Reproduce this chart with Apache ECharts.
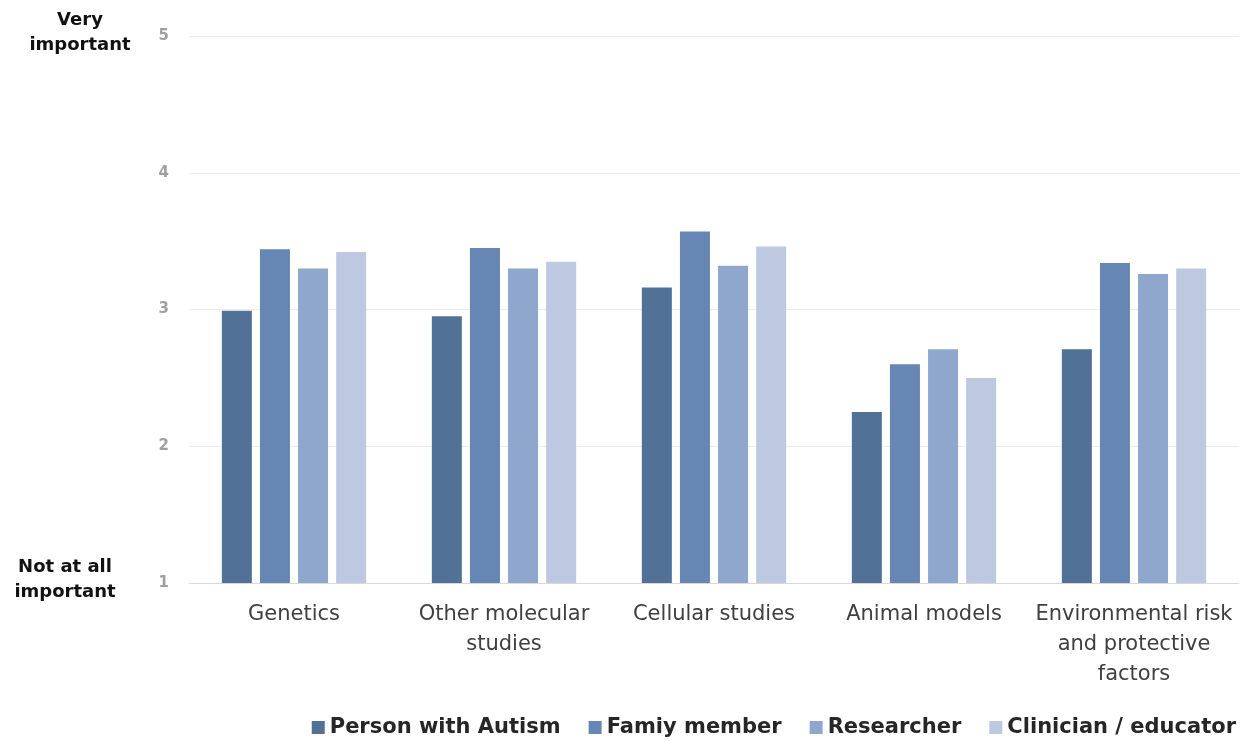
<!DOCTYPE html>
<html><head><meta charset="utf-8">
<script src="https://cdn.jsdelivr.net/npm/echarts@6/dist/echarts.min.js"></script>
<style>html,body{margin:0;padding:0;background:#fff}#c{width:1243px;height:741px}</style>
</head><body><div id="c"></div>
<script>
const categories = ["Genetics", "Other molecular\nstudies", "Cellular studies", "Animal models", "Environmental risk\nand protective\nfactors"];
const seriesNames = ["Person with Autism", "Famiy member", "Researcher", "Clinician / educator"];
const personWithAutism = [2.99, 2.95, 3.16, 2.25, 2.71];
const familyMember = [3.44, 3.45, 3.57, 2.60, 3.34];
const researcher = [3.30, 3.30, 3.32, 2.71, 3.26];
const clinicianEducator = [3.42, 3.35, 3.46, 2.50, 3.30];
const colors = ["#527196", "#6687B3", "#8FA7CC", "#BDC9E0"];
const font = "'DejaVu Sans', sans-serif";
const values = [personWithAutism, familyMember, researcher, clinicianEducator];
const chart = echarts.init(document.getElementById('c'));
chart.setOption({
  backgroundColor: '#fff',
  textStyle: {fontFamily: font},
  grid: {left: 189, right: 4, top: 36, bottom: 158},
  legend: {
    bottom: -2, right: 2, itemWidth: 13, itemHeight: 13, itemGap: 28,
    icon: 'rect',
    textStyle: {fontSize: 21, fontWeight: 'bold', color: '#262626', fontFamily: font},
    data: seriesNames
  },
  xAxis: {
    type: 'category', data: categories,
    axisLine: {show: true, lineStyle: {color: '#d9d9d9'}},
    axisTick: {show: false},
    axisLabel: {fontSize: 21, color: '#404040', lineHeight: 30, margin: 17, interval: 0, fontFamily: font}
  },
  yAxis: {
    type: 'value', min: 1, max: 5, interval: 1,
    axisLine: {show: false}, axisTick: {show: false},
    splitLine: {lineStyle: {color: '#ececec'}},
    axisLabel: {fontSize: 15, fontWeight: 'bold', color: '#a0a0a0', margin: 20, fontFamily: font}
  },
  graphic: [
    {type: 'text', style: {text: 'Very\nimportant', x: 80, y: 8, align: 'center', fill: '#111', lineHeight: 25, font: "bold 18px 'DejaVu Sans', sans-serif"}},
    {type: 'text', style: {text: 'Not at all\nimportant', x: 65, y: 555, align: 'center', fill: '#111', lineHeight: 25, font: "bold 18px 'DejaVu Sans', sans-serif"}}
  ],
  series: seriesNames.map((n, i) => ({
    name: n, type: 'bar', data: values[i], barWidth: 30, barGap: '27%',
    itemStyle: {color: colors[i]}
  }))
});
</script></body></html>
